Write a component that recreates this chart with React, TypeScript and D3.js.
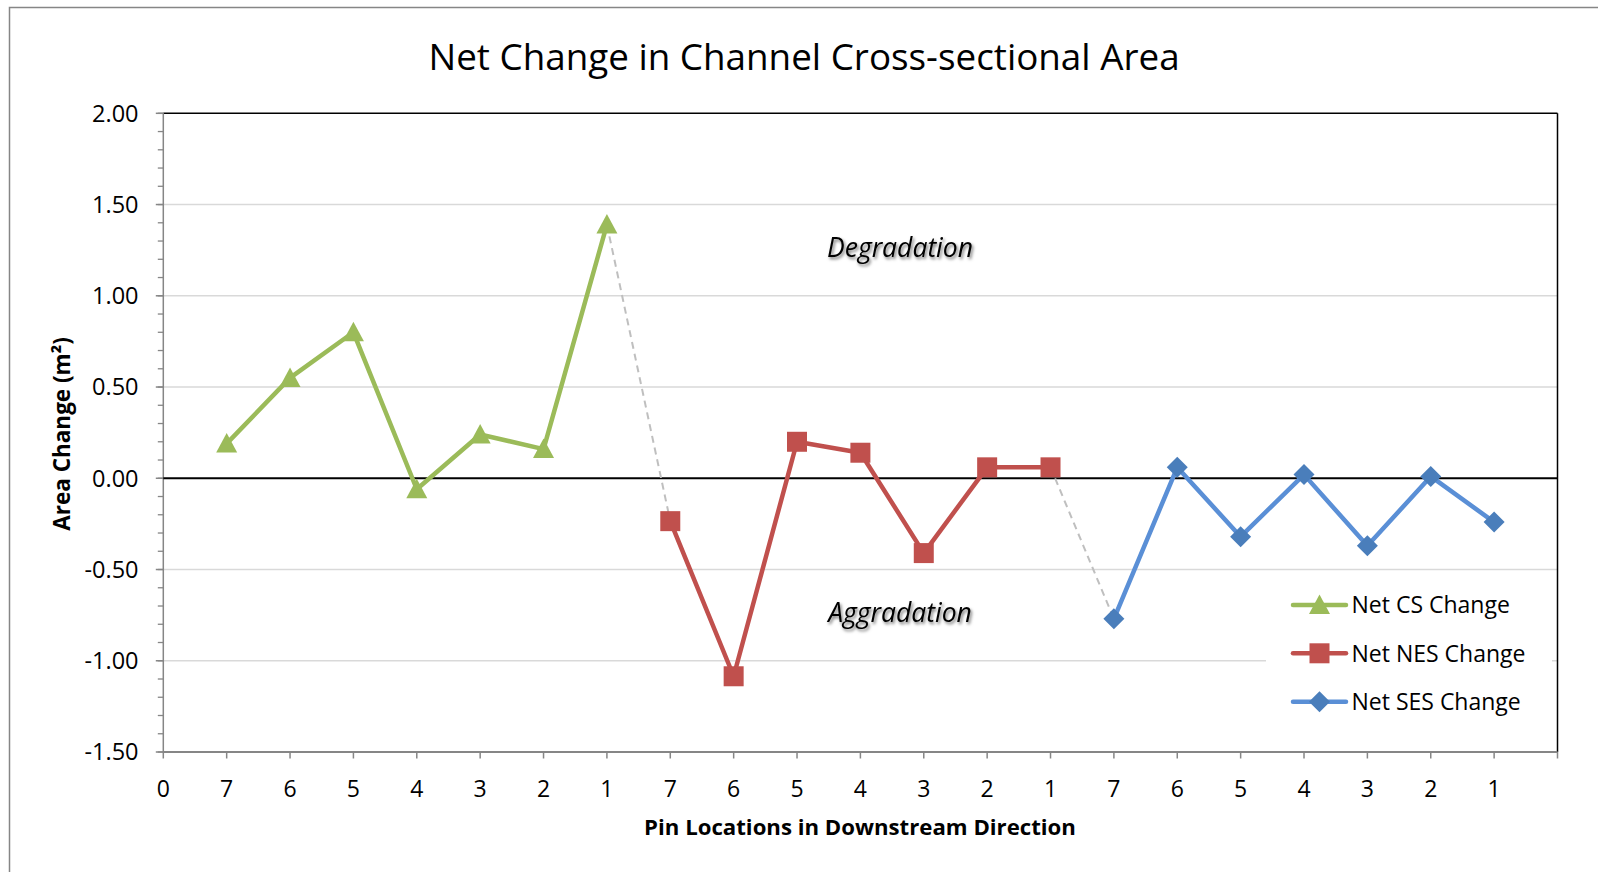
import React from "react";
import * as d3 from "d3";

const xTickLabels = ["0", "7", "6", "5", "4", "3", "2", "1", "7", "6", "5", "4", "3", "2", "1", "7", "6", "5", "4", "3", "2", "1", ""];
const csX = [1, 2, 3, 4, 5, 6, 7];
const csValues = [0.19, 0.55, 0.8, -0.06, 0.24, 0.16, 1.39];
const nesX = [8, 9, 10, 11, 12, 13, 14];
const nesValues = [-0.235, -1.085, 0.2, 0.14, -0.41, 0.06, 0.06];
const sesX = [15, 16, 17, 18, 19, 20, 21];
const sesValues = [-0.77, 0.06, -0.32, 0.02, -0.37, 0.01, -0.24];
const yTicks = [2.0, 1.5, 1.0, 0.5, 0.0, -0.5, -1.0, -1.5];
const legendLabels = ["Net CS Change", "Net NES Change", "Net SES Change"];

const W = 1598;
const H = 872;
const left = 163.3;
const right = 1557.5;
const top = 113.3;
const bottom = 752;
const FONT = "'Open Sans', 'Noto Sans', sans-serif";

const GREEN = "#9BBB59";
const RED = "#C0504D";
const BLUE_LINE = "#5A8FD6";
const BLUE_MARK = "#4A7EBB";

export default function App() {
  const x = d3.scaleLinear().domain([0, 22]).range([left, right]);
  const y = d3.scaleLinear().domain([-1.5, 2]).range([bottom, top]);
  const line = d3
    .line<[number, number]>()
    .x((d) => x(d[0]))
    .y((d) => y(d[1]));

  const cs: [number, number][] = csX.map((v, i) => [v, csValues[i]]);
  const nes: [number, number][] = nesX.map((v, i) => [v, nesValues[i]]);
  const ses: [number, number][] = sesX.map((v, i) => [v, sesValues[i]]);
  const conn1: [number, number][] = [cs[cs.length - 1], nes[0]];
  const conn2: [number, number][] = [nes[nes.length - 1], ses[0]];

  const minorTicks = d3.range(-15, 21).map((k) => k / 10);
  const grid = yTicks.filter((v) => v !== 2 && v !== -1.5 && v !== 0);

  const tri = (cx: number, cy: number) =>
    `M${cx},${cy - 10.5}L${cx + 10.5},${cy + 9}L${cx - 10.5},${cy + 9}Z`;
  const sq = (cx: number, cy: number) =>
    `M${cx - 10},${cy - 10}h20v20h-20Z`;
  const dia = (cx: number, cy: number) =>
    `M${cx},${cy - 10.5}L${cx + 10.5},${cy}L${cx},${cy + 10.5}L${cx - 10.5},${cy}Z`;

  const legendY = [605, 653.3, 701.7];
  const legendColorsLine = [GREEN, RED, BLUE_LINE];
  const legendColorsMark = [GREEN, RED, BLUE_MARK];
  const legendShapes = [tri, sq, dia];

  return (
    <svg
      width={W}
      height={H}
      style={{ position: "absolute", left: 0, top: 0, background: "#fff" }}
      fontFamily={FONT}
    >
      <defs>
        <filter id="shadow" x="-10%" y="-30%" width="130%" height="180%">
          <feDropShadow dx="1.5" dy="2.2" stdDeviation="1.5" floodColor="#000" floodOpacity="0.55" />
        </filter>
      </defs>
      <rect x={0} y={0} width={W} height={H} fill="#fff" />
      <rect x={9.5} y={7.5} width={1700} height={1000} fill="none" stroke="#868686" strokeWidth={1.5} />

      <text x={804} y={69.5} textAnchor="middle" fontSize={36.8} fill="#000">
        Net Change in Channel Cross-sectional Area
      </text>

      {/* gridlines */}
      {grid.map((v) => (
        <line key={"g" + v} x1={left} x2={right} y1={y(v)} y2={y(v)} stroke="#D9D9D9" strokeWidth={1.5} />
      ))}

      {/* top & right border */}
      <line x1={left} x2={right} y1={top} y2={top} stroke="#000" strokeWidth={1.5} />
      <line x1={right} x2={right} y1={top} y2={bottom} stroke="#000" strokeWidth={1.5} />

      {/* y axis */}
      <line x1={left} x2={left} y1={top} y2={bottom} stroke="#868686" strokeWidth={1.5} />
      {minorTicks.map((v) => (
        <line key={"m" + v} x1={left - 5.5} x2={left} y1={y(v)} y2={y(v)} stroke="#868686" strokeWidth={1.3} />
      ))}
      {yTicks.map((v) => (
        <g key={"t" + v}>
          <line x1={left - 7.5} x2={left} y1={y(v)} y2={y(v)} stroke="#868686" strokeWidth={1.5} />
          <text x={138.5} y={y(v) + 8.3} textAnchor="end" fontSize={23.5} fill="#000">
            {v.toFixed(2)}
          </text>
        </g>
      ))}

      {/* zero line */}
      <line x1={left} x2={right} y1={y(0)} y2={y(0)} stroke="#000" strokeWidth={2} />

      {/* x axis */}
      <line x1={left} x2={right} y1={bottom} y2={bottom} stroke="#868686" strokeWidth={2} />
      {xTickLabels.map((lab, i) => (
        <g key={"x" + i}>
          <line x1={x(i)} x2={x(i)} y1={bottom} y2={bottom + 6.5} stroke="#868686" strokeWidth={1.5} />
          <text x={x(i)} y={797} textAnchor="middle" fontSize={23} fill="#000">
            {lab}
          </text>
        </g>
      ))}

      <text x={860} y={835} textAnchor="middle" fontSize={22.2} fontWeight="bold" fill="#000">
        Pin Locations in Downstream Direction
      </text>
      <text
        transform={`translate(69.5,434) rotate(-90)`}
        textAnchor="middle"
        fontSize={22.5}
        fontWeight="bold"
        fill="#000"
      >
        Area Change (m²)
      </text>

      {/* annotations */}
      <text x={900} y={256.5} textAnchor="middle" fontSize={26.5} fontStyle="italic" fill="#000" filter="url(#shadow)">
        Degradation
      </text>
      <text x={900} y={621.5} textAnchor="middle" fontSize={26.5} fontStyle="italic" fill="#000" filter="url(#shadow)">
        Aggradation
      </text>

      {/* connectors */}
      <path d={line(conn1) || ""} fill="none" stroke="#BFBFBF" strokeWidth={2} strokeDasharray="7,5" />
      <path d={line(conn2) || ""} fill="none" stroke="#BFBFBF" strokeWidth={2} strokeDasharray="7,5" />

      {/* series */}
      <path d={line(cs) || ""} fill="none" stroke={GREEN} strokeWidth={4.5} strokeLinejoin="round" />
      {cs.map((d, i) => (
        <path key={"cs" + i} d={tri(x(d[0]), y(d[1]))} fill={GREEN} />
      ))}
      <path d={line(nes) || ""} fill="none" stroke={RED} strokeWidth={4.5} strokeLinejoin="round" />
      {nes.map((d, i) => (
        <path key={"nes" + i} d={sq(x(d[0]), y(d[1]))} fill={RED} />
      ))}
      <path d={line(ses) || ""} fill="none" stroke={BLUE_LINE} strokeWidth={4.5} strokeLinejoin="round" />
      {ses.map((d, i) => (
        <path key={"ses" + i} d={dia(x(d[0]), y(d[1]))} fill={BLUE_MARK} />
      ))}

      {/* legend */}
      <rect x={1266} y={578} width={286} height={150} fill="#fff" />
      {legendLabels.map((lab, i) => (
        <g key={"l" + i}>
          <line
            x1={1293}
            x2={1346}
            y1={legendY[i]}
            y2={legendY[i]}
            stroke={legendColorsLine[i]}
            strokeWidth={4.5}
            strokeLinecap="round"
          />
          <path d={legendShapes[i](1319.5, legendY[i])} fill={legendColorsMark[i]} />
          <text x={1351.5} y={legendY[i] + 8.3} fontSize={23} fill="#000">
            {lab}
          </text>
        </g>
      ))}
    </svg>
  );
}
